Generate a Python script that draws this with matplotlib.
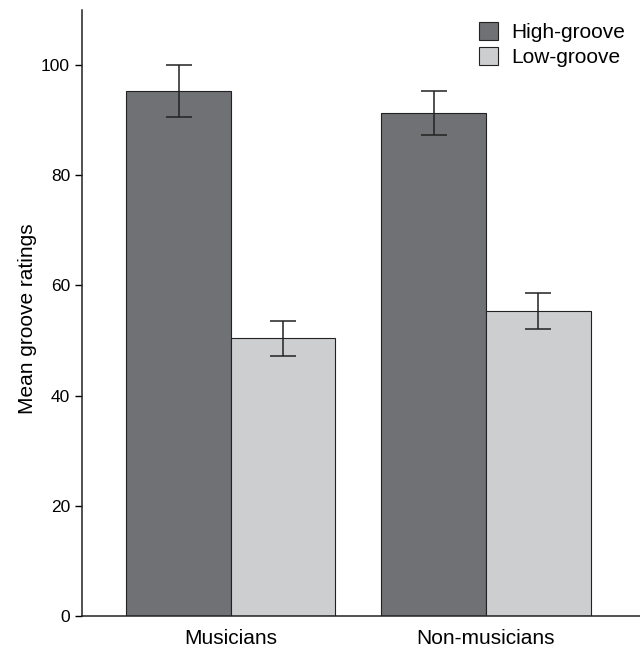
import numpy as np
import matplotlib
matplotlib.use("Agg")
import matplotlib.pyplot as plt

groups = ["Musicians", "Non-musicians"]
high_groove = [95.3, 91.3]
high_err = [4.7, 4.0]
low_groove = [50.4, 55.4]
low_err = [3.2, 3.3]

plt.rcParams['font.family'] = ['Liberation Sans', 'DejaVu Sans']

fig = plt.figure(figsize=(6.4, 6.5), dpi=100)
ax = fig.add_axes([0.128, 0.052, 0.872, 0.933])

x = np.arange(len(groups))
w = 0.41
ax.bar(x - w / 2, high_groove, w, yerr=high_err, color='#707175', edgecolor='#222222',
       linewidth=0.8, capsize=9.5, error_kw=dict(elinewidth=1.1, capthick=1.1, ecolor='#222222'),
       label='High-groove')
ax.bar(x + w / 2, low_groove, w, yerr=low_err, color='#cdcecf', edgecolor='#222222',
       linewidth=0.8, capsize=9.5, error_kw=dict(elinewidth=1.1, capthick=1.1, ecolor='#222222'),
       label='Low-groove')

ax.set_xlim(-0.584, 1.604)
ax.set_ylim(0, 110)
ax.set_yticks([0, 20, 40, 60, 80, 100])
ax.set_xticks(x)
ax.set_xticklabels(groups, fontsize=15)
ax.tick_params(axis='x', length=0, pad=9)
ax.tick_params(axis='y', labelsize=12.5, length=5, width=1, direction='out')
ax.set_ylabel('Mean groove ratings', fontsize=15, labelpad=3, y=0.49)
for s in ['top', 'right']:
    ax.spines[s].set_visible(False)
for s in ['left', 'bottom']:
    ax.spines[s].set_linewidth(1.1)
    ax.spines[s].set_color('#222222')

ax.legend(loc='upper right', frameon=False, fontsize=15, handlelength=0.95, handleheight=0.95,
          handletextpad=0.6, labelspacing=0.2, borderaxespad=0.2, bbox_to_anchor=(0.995, 1.0))

fig.savefig('out.png', dpi=100)
